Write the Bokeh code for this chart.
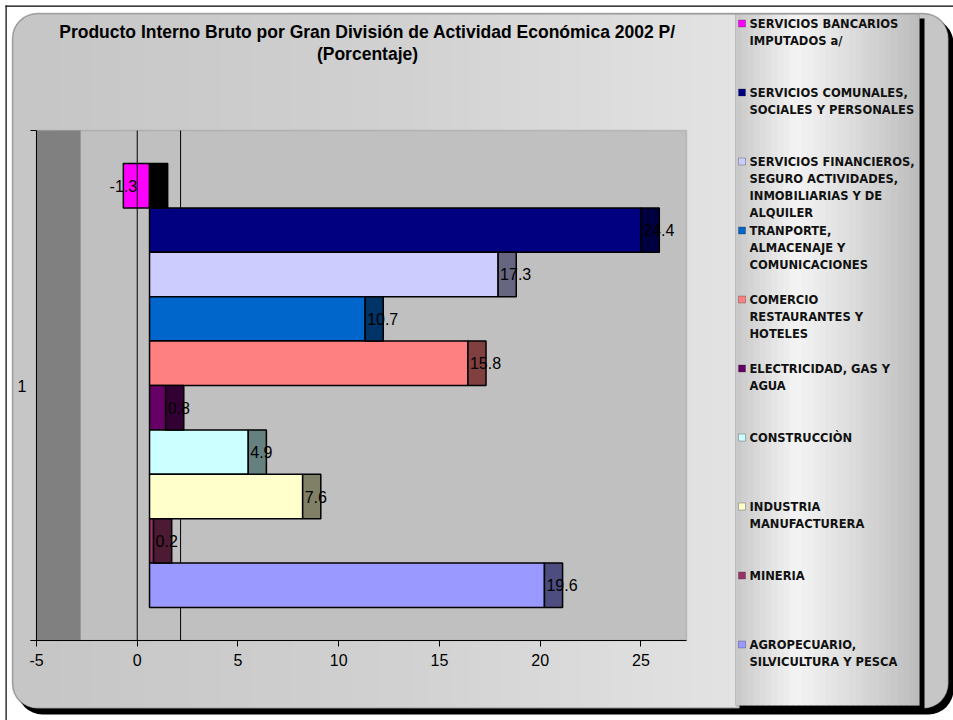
from bokeh.plotting import figure
from bokeh.models import Range1d, FixedTicker, BoxAnnotation, Label
from bokeh.embed import file_html
from bokeh.resources import INLINE
from bokeh.core.properties import value

# ---------------- data ----------------
title_lines = ["Producto Interno Bruto por Gran División de Actividad Económica 2002 P/",
               "(Porcentaje)"]
category = "1"
sectors = [
    "SERVICIOS BANCARIOS IMPUTADOS a/",
    "SERVICIOS COMUNALES, SOCIALES Y PERSONALES",
    "SERVICIOS FINANCIEROS, SEGURO ACTIVIDADES, INMOBILIARIAS Y DE ALQUILER",
    "TRANPORTE, ALMACENAJE Y COMUNICACIONES",
    "COMERCIO RESTAURANTES Y HOTELES",
    "ELECTRICIDAD, GAS Y AGUA",
    "CONSTRUCCIÒN",
    "INDUSTRIA MANUFACTURERA",
    "MINERIA",
    "AGROPECUARIO, SILVICULTURA Y PESCA",
]
legend_lines = [
    ["SERVICIOS BANCARIOS", "IMPUTADOS a/"],
    ["SERVICIOS COMUNALES,", "SOCIALES Y PERSONALES"],
    ["SERVICIOS FINANCIEROS,", "SEGURO ACTIVIDADES,", "INMOBILIARIAS Y DE", "ALQUILER"],
    ["TRANPORTE,", "ALMACENAJE Y", "COMUNICACIONES"],
    ["COMERCIO", "RESTAURANTES Y", "HOTELES"],
    ["ELECTRICIDAD, GAS Y", "AGUA"],
    ["CONSTRUCCIÒN"],
    ["INDUSTRIA", "MANUFACTURERA"],
    ["MINERIA"],
    ["AGROPECUARIO,", "SILVICULTURA Y PESCA"],
]
values = [-1.3, 24.4, 17.3, 10.7, 15.8, 0.8, 4.9, 7.6, 0.2, 19.6]
x_ticks = [-5, 0, 5, 10, 15, 20, 25]

front_colors = ["#FF00FF", "#000080", "#CCCCFF", "#0066CC", "#FF8080",
                "#660066", "#CCFFFF", "#FFFFCC", "#993366", "#9999FF"]
side_colors = ["#000000", "#000040", "#666680", "#003366", "#804040",
               "#330033", "#668080", "#808066", "#4D1A33", "#4D4D80"]

# ---------------- layout constants ----------------
W, H = 953, 720
PL, PR, PT, PB = 36, 686, 130, 640        # plot area in canvas pixels
XMIN, XMAX = -5, 27.26                     # plot area value extent
kx = (PR - PL) / (XMAX - XMIN)
ky = (PB - PT) / 1.0
x_start = XMIN - PL / kx
x_end = XMAX + (W - PR) / kx
y_start = 0 - (H - PB) / ky
y_end = 1 + PT / ky

OFFSET = 0.61   # 3-D front offset (value units)
DEPTH = 0.9     # 3-D side depth (value units)
GAP = 0.0647

n = len(values)
bar_h = (1 - 2 * GAP) / n
ys = [1 - GAP - bar_h * (i + 0.5) for i in range(n)]
front_left = [OFFSET + min(v, 0) for v in values]
front_right = [OFFSET + max(v, 0) for v in values]
side_left = [OFFSET + max(v, 0) for v in values]
side_right = [OFFSET + max(v, 0) + DEPTH for v in values]

p = figure(width=W, height=H, output_backend="svg", toolbar_location=None,
           x_range=Range1d(x_start, x_end), y_range=Range1d(y_start, y_end),
           min_border_left=0, min_border_right=0, min_border_top=0, min_border_bottom=0,
           border_fill_color="white", background_fill_color="white",
           outline_line_color=None)
p.title.visible = False
p.xgrid.visible = False
p.ygrid.visible = False


def hexc(v):
    v = max(0, min(255, int(round(v))))
    return "#%02X%02X%02X" % (v, v, v)


def interp(stops, x):
    for (x0, c0), (x1, c1) in zip(stops[:-1], stops[1:]):
        if x0 <= x <= x1:
            t = (x - x0) / (x1 - x0)
            return c0 + (c1 - c0) * t
    return stops[-1][1] if x > stops[-1][0] else stops[0][1]


def sbox(left, right, top, bottom, **kw):
    # canvas pixel box (y measured downward) -> screen units
    b = BoxAnnotation(left=left, right=right, top=H - top, bottom=H - bottom,
                      left_units="screen", right_units="screen",
                      top_units="screen", bottom_units="screen", **kw)
    p.add_layout(b)
    return b


def slabel(x, y, text, **kw):
    p.add_layout(Label(x=x, y=H - y, x_units="screen", y_units="screen", text=text, **kw))


# outer thin border
sbox(5, W, 5, 6.2, fill_color="black", fill_alpha=1, line_alpha=0, level="underlay")
sbox(5, 6.2, 5, H, fill_color="black", fill_alpha=1, line_alpha=0, level="underlay")

# chart area with shadow
sbox(17, 953, 18, 714, fill_color="black", fill_alpha=1, line_alpha=0,
     border_radius=25, level="underlay")
sbox(12, 948, 13, 708, fill_color="#C6C6C6", fill_alpha=1, line_color="black",
     line_width=1.5, border_radius=25, level="underlay")
chart_stops = [(40, 0xC6), (400, 0xD1), (736, 0xE3)]
x = 40
while x < 736:
    c = interp(chart_stops, x + 5)
    sbox(x, min(x + 11, 736), 14.5, 706.5, fill_color=hexc(c), fill_alpha=1,
         line_alpha=0, level="underlay")
    x += 10

# legend box with shadow and gradient
sbox(739, 924, 18, 710, fill_color="black", fill_alpha=1, line_alpha=0, level="underlay")
leg_stops = [(735, 0xC8), (795, 0xF4), (852, 0xDC), (919, 0xBC)]
x = 735
while x < 919:
    c = interp(leg_stops, x + 3)
    sbox(x, min(x + 7, 919), 14, 705, fill_color=hexc(c), fill_alpha=1,
         line_alpha=0, level="underlay")
    x += 6
sbox(735, 919, 14, 705, fill_alpha=0, line_color="#808080", line_width=1, level="underlay")

# plot area and 3-D side wall
p.add_layout(BoxAnnotation(left=XMIN, right=XMAX, bottom=0, top=1,
                           fill_color="#C0C0C0", fill_alpha=1, line_color="#808080",
                           line_width=1.5, level="underlay"))
p.add_layout(BoxAnnotation(left=XMIN, right=-2.81, bottom=0, top=1,
                           fill_color="#808080", fill_alpha=1, line_alpha=0,
                           level="underlay"))

# back-wall zero line (behind bars)
p.segment(x0=[2.15], y0=[0], x1=[2.15], y1=[1], line_color="black", line_width=1)

# bars
p.hbar(y=ys, left=front_left, right=front_right, height=bar_h,
       fill_color=front_colors, line_color="black", line_width=1.5)
p.hbar(y=ys, left=side_left, right=side_right, height=bar_h,
       fill_color=side_colors, line_color="black", line_width=1.5)

# front zero line
p.segment(x0=[0], y0=[0], x1=[0], y1=[1], line_color="black", line_width=1)

# data labels
lab = [("%.1f" % v) for v in values]
pos_i = [i for i, v in enumerate(values) if v >= 0]
neg_i = [i for i, v in enumerate(values) if v < 0]
p.text(x=[front_right[i] for i in pos_i], y=[ys[i] for i in pos_i],
       text=[lab[i] for i in pos_i], x_offset=2,
       text_font=value("Liberation Sans"), text_font_size="16px",
       text_baseline="middle", text_align="left", text_color="black")
p.text(x=[front_left[i] for i in neg_i], y=[ys[i] for i in neg_i],
       text=[lab[i] for i in neg_i],
       text_font=value("Liberation Sans"), text_font_size="16px",
       text_baseline="middle", text_align="center", text_color="black")

# axes (drawn at fixed locations inside the canvas-wide frame)
xa = p.xaxis[0]
xa.fixed_location = 0
xa.bounds = (XMIN - 0.3, XMAX)
xa.ticker = FixedTicker(ticks=x_ticks)
xa.major_label_overrides = {-5: "-5"}
xa.major_tick_in = 0
xa.major_tick_out = 6
xa.minor_tick_in = 0
xa.minor_tick_out = 0
xa.axis_line_color = "black"
xa.major_tick_line_color = "black"
xa.major_label_text_font = "Liberation Sans"
xa.major_label_text_font_size = "16px"
xa.major_label_text_color = "black"
xa.major_label_standoff = 7

ya = p.yaxis[0]
ya.fixed_location = XMIN
ya.bounds = (0, 1)
ya.ticker = FixedTicker(ticks=[0, 1])
ya.major_label_overrides = {0: "", 1: ""}
ya.major_tick_in = 0
ya.major_tick_out = 6
ya.minor_tick_in = 0
ya.minor_tick_out = 0
ya.axis_line_color = "black"
ya.major_tick_line_color = "black"

p.add_layout(Label(x=17, y=0.5, x_units="screen", y_units="data", text=category,
                   text_font="Liberation Sans", text_font_size="16px",
                   text_baseline="middle", text_align="left", text_color="black"))

# title
for j, t in enumerate(title_lines):
    slabel(367, 31 + 22 * j, t, text_font="Liberation Sans", text_font_style="bold",
           text_font_size="17.5px", text_align="center", text_baseline="middle",
           text_color="black")

# legend
for i, lines in enumerate(legend_lines):
    y0 = 23 + 69 * i
    sbox(738, 745, y0 - 3.5, y0 + 3.5, fill_color=front_colors[i], fill_alpha=1,
         line_color="#202020", line_width=1, level="annotation")
    for j, t in enumerate(lines):
        slabel(749, y0 + 17 * j, t, text_font="DejaVu Sans", text_font_style="bold",
               text_font_size="11.5px", text_align="left", text_baseline="middle",
               text_color="#111111")

open("out.html", "w").write(file_html(p, INLINE))
